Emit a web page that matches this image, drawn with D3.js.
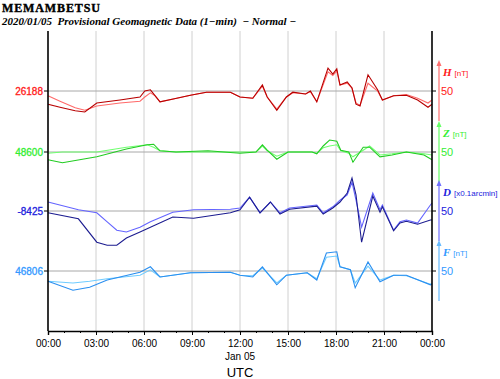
<!DOCTYPE html>
<html><head><meta charset="utf-8">
<script src="https://cdn.jsdelivr.net/npm/d3@7"></script>
<style>body{margin:0;background:#fff}svg{display:block}</style>
</head><body>
<script>
// ---- data (deviations from each component's reference level) ----
const xTickLabels = ["00:00","03:00","06:00","09:00","12:00","15:00","18:00","21:00","00:00"];
const hH = [0,0.75,1.7,2.3,3.05,4.5,5.75,6.05,6.4,6.7,7,7.9,8.9,9.9,11.4,12,12.8,13.4,13.7,14.3,14.9,15.3,16.1,16.4,16.8,17.5,17.8,18.05,18.25,18.7,19,19.25,19.5,20,20.6,20.9,21.6,22.4,23.1,23.75,24];
const H1 = [-22,-27,-33,-35,-20,-15,-10,0,2,-8,-18,-13,-7,-2,-2,-10,-12,10,-10,-32,-10,-2,-5,0,-18,38,28,37,10,15,5,-22,-25,27,2,-15,-8,-7,-15,-27,-22];
const H2 = [-8,-17,-28,-32,-25,-20,-17,-10,-3,-8,-18,-13,-7,-2,-2,-10,-12,8,-10,-30,-10,-3,-5,-1,-18,32,26,33,10,13,5,-20,-24,13,0,-15,-8,-6,-12,-20,-15];
const hZ = [0,0.9,3.05,4.9,6.2,6.6,7,8,10,12,13,13.4,13.7,14.3,15,16.5,16.8,17.2,17.6,18.05,18.3,18.8,19.06,19.7,20.1,20.75,21.5,22.4,23.5,24];
const Z1 = [-13,-18,-8,5,12,13,2,0,2,-2,0,12,3,-12,0,0,-3,10,20,18,3,0,-17,8,8,-8,-5,0,-5,-13];
const Z2 = [-2,0,0,8,12,8,2,0,0,0,0,10,2,-7,0,0,-2,7,10,12,2,-2,-8,3,10,-5,-3,0,-3,-5];
const hD = [0,1.9,3.05,3.7,4.3,4.9,5.75,6.4,7.8,9.1,11.4,12,12.6,13.25,13.9,14.5,15.1,16.8,17.2,17.8,18.25,18.7,19.0,19.25,19.6,20.3,20.75,20.9,21.6,22,22.4,23.1,23.9,24];
const D1 = [-3,-13,-52,-57,-57,-45,-35,-27,-10,-12,-3,2,23,-3,15,-5,3,8,-5,5,15,30,55,27,-52,25,-2,7,-33,-20,-17,-22,-15,-15];
const D2 = [15,2,-3,-18,-32,-35,-27,-18,-2,2,3,5,23,-3,15,-3,5,10,-3,7,18,27,48,18,-27,30,2,10,-32,-18,-15,-20,10,13];
const hF = [0,1.56,2.6,3.7,5.75,6.4,7,8.9,11.4,12,12.8,13.4,14.3,14.9,16.2,16.8,17.4,18.05,18.25,18.9,19.2,20,20.75,21.6,22.4,23.9,24];
const F1 = [-17,-32,-27,-15,-2,7,-10,-3,-2,-7,-10,7,-23,-7,-3,-15,30,32,7,2,-28,15,-18,-7,-7,-23,-22];
const F2 = [-17,-20,-17,-13,-7,2,-10,-3,-2,-7,-8,5,-20,-7,-3,-13,23,25,7,2,-20,8,-15,-7,-8,-22,-20];
const refLabels = ["26188","48600","-8425","46806"];

const W=500,H=379, x0=48, x1=432, yTop=31, yBot=331;
const svg=d3.select("body").append("svg").attr("width",W).attr("height",H);
const x=d3.scaleLinear().domain([0,24]).range([x0,x1]);

const comps=[
 {ref:91, h:hH, a:H1, b:H2, ca:"#b80000", cb:"#ff6a6a", lab:"#ff2020", arrow:"#ff7070", sym:"H", unit:"[nT]"},
 {ref:152,h:hZ, a:Z1, b:Z2, ca:"#22cc22", cb:"#70ff70", lab:"#33ee33", arrow:"#66ff66", sym:"Z", unit:"[nT]"},
 {ref:211,h:hD, a:D1, b:D2, ca:"#1c1c90", cb:"#6464ff", lab:"#2222dd", arrow:"#7070ff", sym:"D", unit:"[x0.1arcmin]"},
 {ref:271,h:hF, a:F1, b:F2, ca:"#2a8ff0", cb:"#70ccff", lab:"#3399ff", arrow:"#66bbff", sym:"F", unit:"[nT]"}
];

// vertical grid
svg.append("g").selectAll("line").data(d3.range(3,24,3)).join("line")
 .attr("x1",d=>x(d)).attr("x2",d=>x(d)).attr("y1",yTop).attr("y2",yBot)
 .attr("stroke","#d0d0d0").attr("stroke-width",1);

comps.forEach((c,i)=>{
  const y=d3.scaleLinear().domain([-50,50]).range([c.ref+30,c.ref-30]);
  svg.append("line").attr("x1",x0).attr("x2",x1).attr("y1",y(0)).attr("y2",y(0)).attr("stroke","#a8a8a8");
  svg.append("line").attr("x1",x0-4).attr("x2",x0).attr("y1",y(0)).attr("y2",y(0)).attr("stroke","#000");
  svg.append("line").attr("x1",x1).attr("x2",x1+4).attr("y1",y(0)).attr("y2",y(0)).attr("stroke","#000");
  const line=d3.line().x((d,j)=>x(c.h[j])).y(d=>y(d));
  svg.append("path").attr("d",line(c.b)).attr("fill","none").attr("stroke",c.cb).attr("stroke-width",1.1);
  svg.append("path").attr("d",line(c.a)).attr("fill","none").attr("stroke",c.ca).attr("stroke-width",1.1);
  svg.append("text").attr("x",43).attr("y",y(0)).attr("dy","0.35em").attr("text-anchor","end")
   .attr("font-family","Liberation Sans, Arial, sans-serif").attr("font-size",10).attr("fill",c.lab)
   .attr("stroke",c.lab).attr("stroke-width",0.3).text(refLabels[i]);
  // right arrow
  const ax=439, ab=y(-50), at=y(50);
  svg.append("line").attr("x1",ax).attr("x2",ax).attr("y1",ab).attr("y2",at+4).attr("stroke",c.arrow).attr("stroke-width",1.2);
  svg.append("path").attr("d",`M${ax-2.5},${at+5}L${ax},${at-1}L${ax+2.5},${at+5}Z`).attr("fill",c.arrow);
  const t=svg.append("text").attr("x",443).attr("y",at+15).attr("fill",c.lab);
  t.append("tspan").attr("font-family","Liberation Serif, Times New Roman, serif").attr("font-style","italic").attr("font-weight","bold").attr("font-size",11).text(c.sym);
  t.append("tspan").attr("dx",3).attr("font-family","Liberation Sans, Arial, sans-serif").attr("font-size",8).text(c.unit);
  svg.append("text").attr("x",441).attr("y",y(0)).attr("dy","0.35em").attr("fill",c.lab)
   .attr("font-family","Liberation Sans, Arial, sans-serif").attr("font-size",11).text("50");
});

// axes frame
svg.append("line").attr("x1",x0).attr("x2",x0).attr("y1",yTop).attr("y2",yBot).attr("stroke","#000").attr("stroke-width",1.6);
svg.append("line").attr("x1",x1).attr("x2",x1).attr("y1",yTop).attr("y2",yBot).attr("stroke","#000").attr("stroke-width",1.6);
const xa=svg.append("g").attr("transform",`translate(0,${yBot})`)
 .call(d3.axisBottom(x).tickValues(d3.range(0,25,3)).tickSize(4).tickPadding(5).tickFormat((d,i)=>xTickLabels[i]));
xa.select(".domain").attr("stroke","#000").attr("stroke-width",1.4);
xa.selectAll("text").attr("font-family","Liberation Sans, Arial, sans-serif").attr("font-size",10).attr("fill","#000");
svg.append("g").attr("transform",`translate(0,${yBot})`)
 .call(d3.axisBottom(x).tickValues(d3.range(0,25,1).filter(d=>d%3)).tickSize(2).tickFormat(""))
 .select(".domain").remove();
svg.append("text").attr("x",x(12)).attr("y",360).attr("text-anchor","middle")
 .attr("font-family","Liberation Sans, Arial, sans-serif").attr("font-size",10).text("Jan 05");
svg.append("text").attr("x",x(12)).attr("y",377).attr("text-anchor","middle")
 .attr("font-family","Liberation Sans, Arial, sans-serif").attr("font-size",13).text("UTC");

// titles
svg.append("text").attr("x",2).attr("y",12).attr("font-family","Liberation Serif, Times New Roman, serif")
  .attr("font-weight","bold").attr("font-size",12).attr("fill","#000").attr("stroke","#000").attr("stroke-width",0.4)
  .attr("textLength",98).text("MEMAMBETSU");
svg.append("text").attr("x",2).attr("y",25).attr("font-family","Liberation Serif, Times New Roman, serif")
 .attr("font-weight","bold").attr("font-style","italic").attr("font-size",11).attr("fill","#000")
 .attr("xml:space","preserve").style("white-space","pre")
 .text("2020/01/05  Provisional Geomagnetic Data (1\u2212min)  \u2212 Normal \u2212");
</script>
</body></html>
